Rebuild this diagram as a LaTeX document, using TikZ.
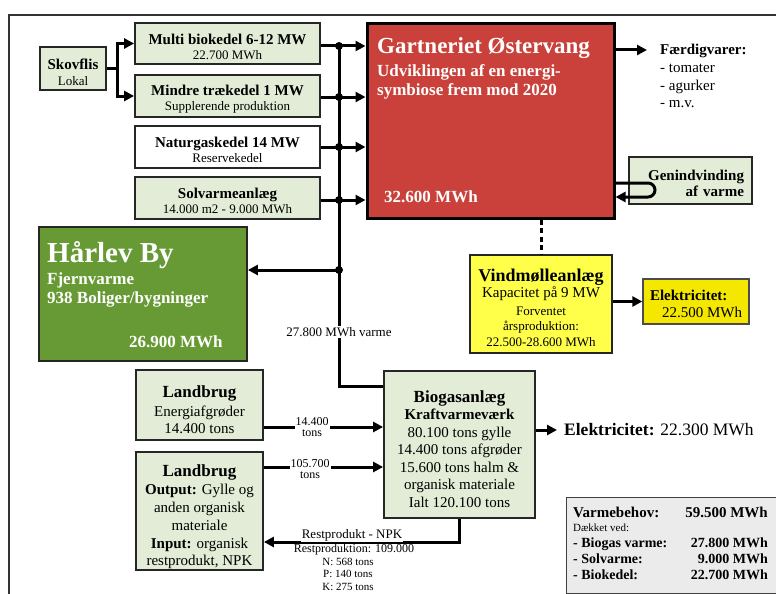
\documentclass[tikz,border=0pt]{standalone}
\usepackage{fontspec}
\setmainfont{Liberation Serif}
\usetikzlibrary{arrows.meta,calc}
\definecolor{lgreen}{HTML}{E2ECD6}
\definecolor{gred}{HTML}{C9413A}
\definecolor{hgreen}{HTML}{679A35}
\definecolor{vyellow}{HTML}{FFFF4A}
\definecolor{eyellow}{HTML}{F4E800}
\definecolor{vgray}{HTML}{EBEBEB}
\newcommand{\fs}[2]{\fontsize{#1}{#2}\selectfont}
\begin{document}
\begin{tikzpicture}[x=1pt,y=-1pt,
  box/.style={draw=black!85, line width=1.8pt, fill=lgreen, inner sep=0pt},
  tb/.style={inner sep=0pt, align=center},
  wire/.style={line width=3pt},
  arr/.style={wire, -{Triangle[length=10pt,width=10pt]}},
  jdot/.style={circle, fill=black, inner sep=0pt, minimum size=8pt},
  lbl/.style={fill=white, inner sep=1pt, align=center},
  wtxt/.style={text=white, inner sep=0pt, anchor=base west, font=\bfseries}]
\useasboundingbox (0,0) rectangle (776,594);
\draw[line width=1.3pt, black!80] (9,15) rectangle (800,620);

% left column
\node[box, minimum width=66pt, minimum height=43pt] (skov) at (73,68.5) {};
\node[tb, font=\fs{15}{16}] (skovt) at ($(skov.center)+(0,3.5)$) {\bfseries Skovflis\\ \fs{13}{16}Lokal};
\node[box, minimum width=185pt, minimum height=41pt] (multi) at (227.5,43.5) {};
\node[tb, font=\fs{15}{15}] (multit) at ($(multi.center)+(0,3)$) {\bfseries Multi biokedel 6-12 MW\\ \fs{13}{15}22.700 MWh};
\node[box, minimum width=185pt, minimum height=42pt] (mindre) at (227.5,96) {};
\node[tb, font=\fs{15}{15}] (mindret) at ($(mindre.center)+(0,3)$) {\bfseries Mindre trækedel 1 MW\\ \fs{13}{15}Supplerende produktion};
\node[box, fill=white, minimum width=185pt, minimum height=42pt] (natur) at (227.5,147) {};
\node[tb, font=\fs{15}{15}] (naturt) at ($(natur.center)+(0,3)$) {\bfseries Naturgaskedel 14 MW\\ \fs{13}{15}Reservekedel};
\node[box, minimum width=185pt, minimum height=42pt] (solv) at (227.5,198) {};
\node[tb, font=\fs{15}{15}] (solvt) at ($(solv.center)+(0,3)$) {\bfseries Solvarmeanlæg\\ \fs{13}{15}14.000 m2 - 9.000 MWh};

% Gartneriet
\node[draw=black, line width=3pt, fill=gred, minimum width=247pt, minimum height=194pt, inner sep=0pt] (gart) at (490.5,121) {};
\node[wtxt, font=\fs{23}{25}\bfseries] (gt1) at (377,53) {Gartneriet Østervang};
\node[wtxt, font=\fs{17}{19}\bfseries] (gt2) at (377,76) {Udviklingen af en energi-};
\node[wtxt, font=\fs{17}{19}\bfseries] (gt3) at (377,95) {symbiose frem mod 2020};
\node[wtxt, font=\fs{17}{19}\bfseries] (gt4) at (384,202) {32.600 MWh};

% Faerdigvarer
\coordinate (fv) at (647,50);
\node[inner sep=0pt, anchor=base west, font=\fs{15}{17}\bfseries] (fv1) at (660,55) {Færdigvarer:};
\node[inner sep=0pt, anchor=base west, font=\fs{15}{17}] (fv2) at (660,72) {- tomater};
\node[inner sep=0pt, anchor=base west, font=\fs{15}{17}] (fv3) at (660,90) {- agurker};
\node[inner sep=0pt, anchor=base west, font=\fs{15}{17}] (fv4) at (660,107) {- m.v.};

% Genindvinding
\node[box, minimum width=123pt, minimum height=47pt] (gen) at (690.5,180.5) {};
\node[tb, text width=107pt, align=right, font=\fs{15}{16}\bfseries] (gent) at ($(gen.center)+(0,3)$) {Genindvinding\\af varme};

% Vindmolle
\node[draw=black!85, line width=1.4pt, fill=vyellow, minimum width=142pt, minimum height=98pt, inner sep=0pt] (vind) at (541,304) {};
\node[tb, font=\fs{13}{15.5}] (vindt) at ($(vind.center)+(0,3.5)$)
  {{\fs{18}{18}\bfseries Vindmølleanlæg}\\[1pt] {\fs{15}{15}Kapacitet på 9 MW}\\[2pt] Forventet\\ årsproduktion:\\ 22.500-28.600 MWh};
\node[draw=black!70, line width=1.4pt, fill=eyellow, minimum width=106pt, minimum height=45pt, inner sep=0pt] (el1) at (696,301.5) {};
\node[tb, align=left, font=\fs{15}{17}] (el1t) at ($(el1.center)+(0,2)$) {\textbf{Elektricitet:}\\\hspace*{12pt}22.500 MWh};

% Harlev
\node[draw=black!85, line width=1.8pt, fill=hgreen, minimum width=208pt, minimum height=134pt, inner sep=0pt] (harlev) at (143,294) {};
\node[wtxt, font=\fs{29}{30}\bfseries] (h1) at (47,262) {Hårlev By};
\node[wtxt, font=\fs{17}{19}\bfseries] (h2) at (47,284) {Fjernvarme};
\node[wtxt, font=\fs{17}{19}\bfseries] (h3) at (47,303) {938 Boliger/bygninger};
\node[wtxt, font=\fs{17}{19}\bfseries] (h4) at (129,347) {26.900 MWh};

% Landbrug + Biogas
\node[box, minimum width=127pt, minimum height=70pt] (land1) at (199.5,405) {};
\node[tb, font=\fs{15}{17.5}] (land1t) at ($(land1.center)+(0,5)$)
  {{\fs{17}{17}\bfseries Landbrug}\\[1pt] Energiafgrøder\\ 14.400 tons};
\node[box, minimum width=127pt, minimum height=118pt] (land2) at (199.5,511) {};
\node[tb, font=\fs{15}{17.8}] (land2t) at ($(land2.center)+(0,6)$)
  {{\fs{17}{17}\bfseries Landbrug}\\ \textbf{Output:} Gylle og\\ anden organisk\\ materiale\\ \textbf{Input:} organisk\\ restprodukt, NPK};
\node[box, minimum width=151pt, minimum height=147pt] (bio) at (459.5,444.5) {};
\node[tb, font=\fs{15}{17.5}] (biot) at ($(bio.center)+(0,4.5)$)
  {{\fs{17}{17}\bfseries Biogasanlæg}\\ \textbf{Kraftvarmeværk}\\ 80.100 tons gylle\\ 14.400 tons afgrøder\\ 15.600 tons halm \&\\ organisk materiale\\ Ialt 120.100 tons};

% Elektricitet biogas
\node[inner sep=0pt, anchor=base west, font=\fs{17.5}{19}] (el2) at (564,435) {\textbf{Elektricitet:} 22.300 MWh};

% Varmebehov
\draw[draw=black!75, line width=1pt, fill=vgray] (566,497) rectangle (790,593);
\node[inner sep=0pt, anchor=base west, font=\fs{15}{17}\bfseries] (vb1) at (573,517) {Varmebehov:};
\node[inner sep=0pt, anchor=base east, font=\fs{15}{17}\bfseries] (vb1v) at (768,517) {59.500 MWh};
\node[inner sep=0pt, anchor=base west, font=\fs{11}{12}] (vb2) at (573,531) {Dækket ved:};
\node[inner sep=0pt, anchor=base west, font=\fs{14}{16}\bfseries] (vb3) at (573,547) {- Biogas varme:};
\node[inner sep=0pt, anchor=base east, font=\fs{14}{16}\bfseries] (vb3v) at (768,547) {27.800 MWh};
\node[inner sep=0pt, anchor=base west, font=\fs{14}{16}\bfseries] (vb4) at (573,563) {- Solvarme:};
\node[inner sep=0pt, anchor=base east, font=\fs{14}{16}\bfseries] (vb4v) at (768,563) {9.000 MWh};
\node[inner sep=0pt, anchor=base west, font=\fs{14}{16}\bfseries] (vb5) at (573,579) {- Biokedel:};
\node[inner sep=0pt, anchor=base east, font=\fs{14}{16}\bfseries] (vb5v) at (768,579) {22.700 MWh};

% ---- connectors ----
\coordinate (sk) at (117,68.5);
\draw[wire] (skov.east) -- (sk);
\draw[arr] (sk) |- (multi.west);
\draw[arr] (sk) |- (mindre.west);

\coordinate (j1) at (339,46);
\coordinate (j2) at (339,97);
\coordinate (j3) at (339,147);
\coordinate (j4) at (339,200);
\coordinate (j5) at (339,270);
\coordinate (jb) at (339,386);
\draw[wire] (multi.east |- j1) -- (j1);
\draw[wire] (mindre.east |- j2) -- (j2);
\draw[wire] (natur.east |- j3) -- (j3);
\draw[wire] (solv.east |- j4) -- (j4);
\draw[arr] (j1) -- (j1 -| gart.west);
\draw[arr] (j2) -- (j2 -| gart.west);
\draw[arr] (j3) -- (j3 -| gart.west);
\draw[arr] (j4) -- (j4 -| gart.west);
\draw[wire] (j1) -- (jb) -- (jb -| bio.west);
\draw[arr] (j5) -- (j5 -| harlev.east);
\foreach \j in {j1,j2,j3,j4,j5} \node[jdot] at (\j) {};
\node[lbl, font=\fs{13}{15}] (lb27) at (339,332) {27.800 MWh varme};

\draw[arr] (gart.east |- fv) -- (fv);
\draw[wire, rounded corners=7pt, -{Triangle[length=10pt,width=10pt]}] (gart.east |- 0,183) -- (655,183) -- (655,197) -- (gart.east |- 0,197);
\draw[line width=3pt, dash pattern=on 5pt off 3.5pt] (gart.south -| vind.north) -- (vind.north);
\draw[arr] (vind.east |- el1.west) -- (el1.west);

\draw[arr] (land1.east |- 0,427) -- (bio.west |- 0,427);
\draw[arr] (land2.east |- 0,467) -- (bio.west |- 0,467);
\node[lbl, font=\fs{12}{11}] (l14) at (312,427.5) {14.400\\tons};
\node[lbl, font=\fs{12}{11}] (l105) at (310,469) {105.700\\tons};

\draw[arr] (bio.east |- 0,430) -- (557,430);
\draw[arr] (bio.south) |- (land2.east |- 0,542);
\node[lbl, font=\fs{13}{15}] (rp1) at (352,535) {Restprodukt - NPK};
\node[inner sep=0pt, anchor=base, font=\fs{12}{13}] (rp2) at (354,552) {Restproduktion: 109.000};
\node[inner sep=0pt, anchor=base, font=\fs{11}{12}] (rp3) at (348,565) {N: 568 tons};
\node[inner sep=0pt, anchor=base, font=\fs{11}{12}] (rp4) at (348,577.5) {P: 140 tons};
\node[inner sep=0pt, anchor=base, font=\fs{11}{12}] (rp5) at (348,590) {K: 275 tons};
\end{tikzpicture}
\end{document}
